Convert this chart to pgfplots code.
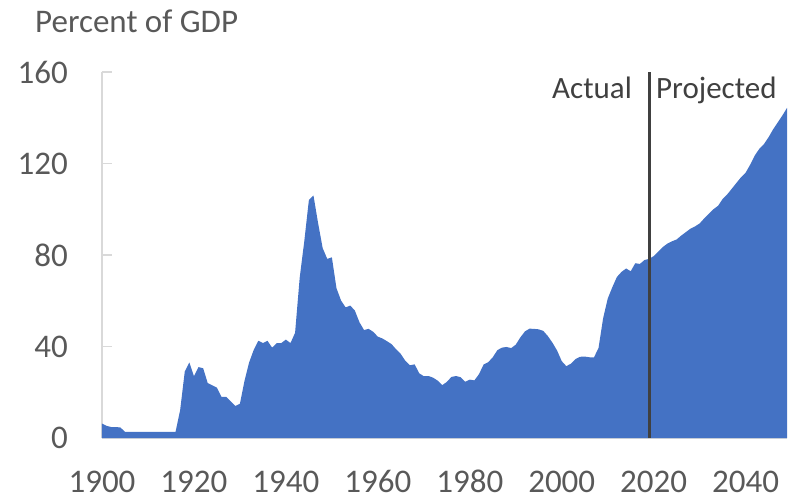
\documentclass[border=0pt]{standalone}
\usepackage{pgfplots}
\pgfplotsset{compat=1.18}
\usepackage{fontspec}
\setmainfont{Carlito}
\definecolor{areablue}{HTML}{4472C4}
\definecolor{txt}{HTML}{595959}
\definecolor{axisgray}{HTML}{D9D9D9}
\definecolor{vline}{HTML}{404040}
\begin{document}
\begin{tikzpicture}
\path[use as bounding box] (-102bp,-61bp) rectangle (691bp,438bp);
\begin{axis}[
  scale only axis, width=685bp, height=366bp,
  xmin=1900, xmax=2049, ymin=0, ymax=160,
  axis x line*=bottom, axis y line*=left,
  axis line style={-, draw=axisgray, line width=2bp},
  xtick={1900,1920,...,2040}, ytick={0,40,...,160},
  x tick style={draw=none},
  y tick style={draw=axisgray, line width=1.5bp},
  tick align=inside, major tick length=10bp,
  /pgf/number format/1000 sep={},
  /pgf/number format/assume math mode=true,
  tick label style={font=\fontsize{33bp}{40bp}\selectfont, text=txt},
  xticklabel style={anchor=base, yshift=-54bp},
  yticklabel style={anchor=east, inner sep=0pt, xshift=-34bp},
  clip=false,
]
\addplot[fill=areablue, draw=none] table {
x y
1900 6.3
1901 5.3
1902 4.8
1903 4.8
1904 4.6
1905 2.7
1906 2.7
1907 2.7
1908 2.7
1909 2.7
1910 2.7
1911 2.7
1912 2.7
1913 2.7
1914 2.7
1915 2.7
1916 2.7
1917 12.2
1918 29
1919 33
1920 27
1921 31
1922 30.5
1923 24
1924 23
1925 22
1926 18
1927 18
1928 16
1929 14
1930 15
1931 25
1932 33
1933 38.5
1934 42.5
1935 41.5
1936 42.5
1937 39.5
1938 41.5
1939 41.5
1940 43
1941 41.5
1942 46
1943 70
1944 86
1945 104
1946 106
1947 94
1948 83
1949 78.3
1950 79
1951 65.5
1952 60.1
1953 57.1
1954 57.9
1955 55.7
1956 50.6
1957 47.2
1958 47.7
1959 46.4
1960 44.3
1961 43.5
1962 42.3
1963 41.0
1964 38.7
1965 36.7
1966 33.7
1967 31.8
1968 32.2
1969 28.3
1970 27.0
1971 27.1
1972 26.4
1973 25.1
1974 23.1
1975 24.5
1976 26.7
1977 27.1
1978 26.6
1979 24.6
1980 25.5
1981 25.2
1982 27.9
1983 32.1
1984 33.1
1985 35.3
1986 38.4
1987 39.5
1988 39.8
1989 39.3
1990 40.8
1991 44.0
1992 46.6
1993 47.8
1994 47.7
1995 47.5
1996 46.8
1997 44.5
1998 41.6
1999 38.2
2000 33.6
2001 31.4
2002 32.5
2003 34.5
2004 35.5
2005 35.6
2006 35.3
2007 35.2
2008 39.3
2009 52.3
2010 60.9
2011 65.9
2012 70.4
2013 72.6
2014 74.1
2015 72.9
2016 76.4
2017 76.1
2018 77.8
2019 78.3
2020 79.5
2021 81.5
2022 83.5
2023 85
2024 86
2025 86.8
2026 88.5
2027 90
2028 91.5
2029 92.5
2030 93.8
2031 96
2032 98
2033 100
2034 101.5
2035 104.5
2036 106.5
2037 109
2038 111.5
2039 114
2040 116
2041 119.5
2042 123.5
2043 126.5
2044 128.5
2045 131.5
2046 135
2047 138
2048 141
2049 144.3
} \closedcycle;
\draw[vline, line width=3bp] (axis cs:2019,0) -- (axis cs:2019,160);
\node[anchor=base east, inner sep=0pt, font=\fontsize{31bp}{38bp}\selectfont, text=vline] at (axis cs:2015.3,148.2) {Actual};
\node[anchor=base west, inner sep=0pt, font=\fontsize{31bp}{38bp}\selectfont, text=vline] at (axis cs:2020.5,148.2) {Projected};
\end{axis}
\node[anchor=base west, inner sep=0pt, font=\fontsize{33bp}{40bp}\selectfont, text=txt] at (-67bp,405bp) {Percent of GDP};
\end{tikzpicture}
\end{document}
